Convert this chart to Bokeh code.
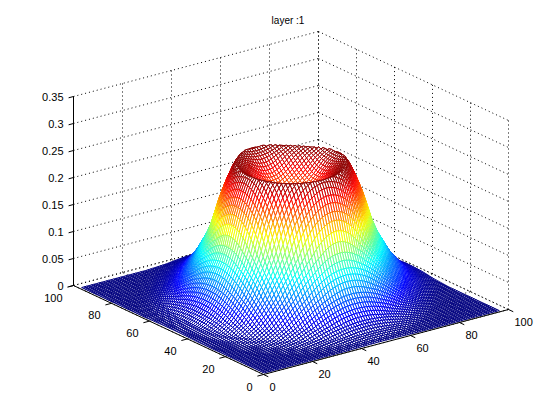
import numpy as np
from bokeh.plotting import figure
from bokeh.models import ColumnDataSource
from bokeh.embed import file_html
from bokeh.resources import INLINE
from bokeh.core.properties import value

# Tick labels
x_ticks = [0, 20, 40, 60, 80, 100]
y_ticks = [0, 20, 40, 60, 80, 100]
z_ticks = [0, 0.05, 0.1, 0.15, 0.2, 0.25, 0.3, 0.35]
z_labels = ["0", "0.05", "0.1", "0.15", "0.2", "0.25", "0.3", "0.35"]
title_text = "layer :1"

# Mesh line positions
grid_x = list(range(1, 98))
grid_y = list(range(1, 98))

# Height profile: radius from the centre -> height.
# The mesh vertices are looked up from this table by radius (an approximation:
# the individual vertices cannot be read from the picture).
centre_xy = [49, 49]
profile_r = [0, 5, 10, 14, 17.5, 19, 21, 23, 24.5, 26, 28, 30, 32, 35, 38, 42, 46, 50, 60, 150]
profile_z = [.18, .19, .215, .238, .25, .237, .212, .183, .156, .128, .102, .082,
             .062, .04, .022, .008, .002, 0, 0, 0]
# The far half of the rim looks squarer than the near half
far_rim_power = 3.0

# Placement of the box on the page (pixels)
ORIGIN = np.array([263.0, 374.0])
X_VEC = np.array([245.0, -65.0]) / 100
Y_VEC = np.array([-190.0, -89.0]) / 100
Z_VEC = np.array([0.0, -189.0]) / 0.35


def proj(x, y, z):
    x, y, z = np.asarray(x, float), np.asarray(y, float), np.asarray(z, float)
    return (ORIGIN[0] + x * X_VEC[0] + y * Y_VEC[0] + z * Z_VEC[0],
            ORIGIN[1] + x * X_VEC[1] + y * Y_VEC[1] + z * Z_VEC[1])


def jet(t):
    t = np.clip(t, 0, 1)
    r = np.clip(np.minimum(4 * t - 1.5, -4 * t + 4.5), 0, 1)
    g = np.clip(np.minimum(4 * t - 0.5, -4 * t + 3.5), 0, 1)
    b = np.clip(np.minimum(4 * t + 0.5, -4 * t + 2.5), 0, 1)
    return "#%02x%02x%02x" % (int(r * 255), int(g * 255), int(b * 255))


p = figure(width=544, height=404, x_range=(0, 544), y_range=(404, 0),
           toolbar_location=None, output_backend="svg", min_border=0)
p.axis.visible = False
p.grid.visible = False
p.outline_line_color = None
p.background_fill_color = "white"
p.border_fill_color = "white"

FONT = value("Liberation Sans")
DOT = "1 3"
Z_MAX = z_ticks[-1]
X_MAX = x_ticks[-1]
Y_MAX = y_ticks[-1]


def line3(a, b, **kw):
    xs, ys = proj([a[0], b[0]], [a[1], b[1]], [a[2], b[2]])
    p.line(list(xs), list(ys), line_color="black", **kw)


# Dotted grid: floor
for x in x_ticks:
    line3((x, 0, 0), (x, Y_MAX, 0), line_dash=DOT, line_width=1)
for y in y_ticks:
    line3((0, y, 0), (X_MAX, y, 0), line_dash=DOT, line_width=1)
# Dotted grid: back walls
for x in x_ticks:
    line3((x, Y_MAX, 0), (x, Y_MAX, Z_MAX), line_dash=DOT, line_width=1)
for y in y_ticks:
    line3((X_MAX, y, 0), (X_MAX, y, Z_MAX), line_dash=DOT, line_width=1)
for z in z_ticks:
    line3((0, Y_MAX, z), (X_MAX, Y_MAX, z), line_dash=DOT, line_width=1)
    line3((X_MAX, Y_MAX, z), (X_MAX, 0, z), line_dash=DOT, line_width=1)

# Mesh, drawn from back to front so nearer white cells hide what is behind
gx = np.array(grid_x, float)
gy = np.array(grid_y, float)
XX, YY = np.meshgrid(gx, gy, indexing="ij")
DX, DY = XX - centre_xy[0], YY - centre_xy[1]
U, V = (DX + DY) / np.sqrt(2), (DX - DY) / np.sqrt(2)
RR = np.hypot(U, V)
far = U > 0
RR[far] = (U[far] ** far_rim_power + np.abs(V[far]) ** far_rim_power) ** (1 / far_rim_power)
ZZ = np.interp(RR, profile_r, profile_z)
top = ZZ.max()
xs, ys, colors = [], [], []
for i in range(len(gx) - 2, -1, -1):
    for j in range(len(gy) - 2, -1, -1):
        ci = [i, i + 1, i + 1, i]
        cj = [j, j, j + 1, j + 1]
        px, py = proj(XX[ci, cj], YY[ci, cj], ZZ[ci, cj])
        xs.append(px.tolist())
        ys.append(py.tolist())
        colors.append(jet(ZZ[ci, cj].mean() / top))
src = ColumnDataSource(dict(xs=xs, ys=ys, c=colors))
p.patches("xs", "ys", source=src, fill_color="white", line_color="c", line_width=1)

# Axes
line3((0, Y_MAX, 0), (0, Y_MAX, Z_MAX), line_width=1)
line3((0, 0, 0), (X_MAX, 0, 0), line_width=1)
line3((0, 0, 0), (0, Y_MAX, 0), line_width=1)
for x in x_ticks:
    line3((x, 0, 0), (x, -2.5, 0), line_width=1)
for y in y_ticks:
    line3((0, y, 0), (-2.5, y, 0), line_width=1)
for z in z_ticks:
    line3((0, Y_MAX, z), (-2, Y_MAX, z), line_width=1)

# Tick labels
tx, ty = proj(x_ticks, [0] * len(x_ticks), [0] * len(x_ticks))
p.text(tx.tolist(), ty.tolist(), text=[str(v) for v in x_ticks], x_offset=6, y_offset=12,
       text_align="left", text_baseline="middle", text_font=FONT, text_font_size="11px",
       text_color="black")
tx, ty = proj([0] * len(y_ticks), y_ticks, [0] * len(y_ticks))
p.text(tx.tolist(), ty.tolist(), text=[str(v) for v in y_ticks], x_offset=-11, y_offset=12,
       text_align="right", text_baseline="middle", text_font=FONT, text_font_size="11px",
       text_color="black")
tx, ty = proj([0] * len(z_ticks), [Y_MAX] * len(z_ticks), z_ticks)
p.text(tx.tolist(), ty.tolist(), text=z_labels, x_offset=-10, y_offset=0,
       text_align="right", text_baseline="middle", text_font=FONT, text_font_size="11px",
       text_color="black")

# Title
p.text([287.5], [20], text=[title_text], text_align="center", text_baseline="middle",
       text_font=FONT, text_font_size="10px", text_color="black")

open("out.html", "w").write(file_html(p, INLINE))
